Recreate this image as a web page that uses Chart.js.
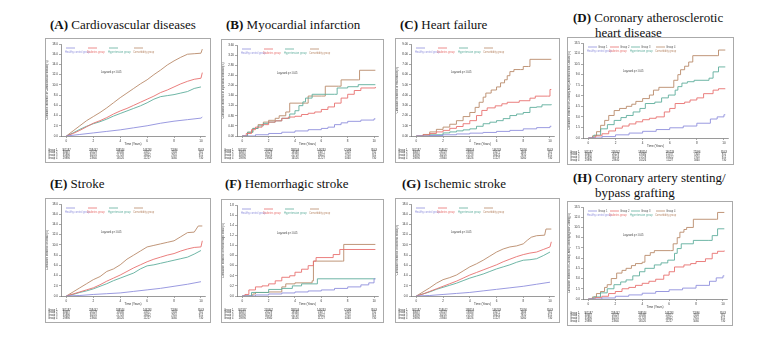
<!DOCTYPE html>
<html>
<head>
<meta charset="utf-8">
<script src="https://cdn.jsdelivr.net/npm/chart.js@4.4.1/dist/chart.umd.min.js"></script>
<style>
  body { margin: 0; width: 773px; height: 340px; background: #fff; position: relative; overflow: hidden; }
  .ttl { position: absolute; font-family: "Liberation Serif", "Times New Roman", serif; font-size: 13px; color: #111; white-space: nowrap; line-height: 15px; }
  .box { position: absolute; border: 1px solid #aaa; box-sizing: border-box; }
  .box canvas { display: block; }
</style>
</head>
<body>
<script>
// ---- shared axis values ----
const xTicks = [0, 2, 4, 6, 8, 10];
const groupNames = ["Group 1", "Group 2", "Group 3", "Group 4"];
const groupLabels = ["Healthy control group", "Diabetes group", "Hypertension group", "Comorbidity group"];
const groupColors = ["#8f8fdc", "#e8706f", "#5fae9c", "#b98a6a"];

// numbers at risk (same layout under every panel)
const riskG1 = ["301187", "258442", "188554", "146233", "72096", "8543"];
const riskG2 = ["30687", "26129", "19580", "15077", "7404", "911"];
const riskG3 = ["35896", "30216", "21728", "16622", "7910", "912"];
const riskG4 = ["29896", "23940", "16526", "11227", "5060", "730"];

// ---- (A) cardiovascular diseases ----
const cvdTicks = [0, 2, 4, 6, 8, 10, 12, 14, 16, 18];
const cvd1 = [[0,0],[1,0.3],[2,0.6],[3,0.9],[4,1.2],[5,1.6],[6,2.0],[7,2.5],[8,2.9],[9,3.2],[10,3.5],[10.1,3.7]];
const cvd2 = [[0,0],[0.5,0.5],[1,1.1],[1.5,1.8],[2,2.5],[2.5,3.0],[3,3.6],[3.5,4.3],[4,4.9],[4.5,5.4],[5,6.0],[5.5,6.6],[6,7.2],[6.5,7.8],[7,8.5],[7.5,9.0],[8,9.6],[8.5,10.2],[9,10.7],[9.5,11.1],[10,11.3],[10.1,12.4]];
const cvd3 = [[0,0],[0.5,0.6],[1,1.3],[1.5,1.9],[2,2.4],[2.5,2.8],[3,3.3],[3.5,3.9],[4,4.4],[4.5,4.9],[5,5.4],[5.5,5.9],[6,6.5],[6.5,7.2],[7,7.7],[7.5,7.9],[8,8.1],[8.5,8.4],[9,8.7],[9.5,9.3],[10,9.6]];
const cvd4 = [[0,0],[0.5,1.0],[1,2.0],[1.5,3.0],[2,3.8],[2.5,4.6],[3,5.5],[3.5,6.5],[4,7.5],[4.5,8.4],[5,9.3],[5.5,10.2],[6,11.0],[6.5,12.0],[7,12.9],[7.5,13.9],[8,14.7],[8.5,15.4],[9,16.0],[9.5,16.1],[10,16.2],[10.1,17.0]];

// ---- (B) myocardial infarction ----
const miTicks = [0, 0.4, 0.8, 1.2, 1.6, 2.0, 2.4, 2.8, 3.2, 3.6];
const mi1 = [[0,0],[1,0.05],[2,0.1],[3,0.15],[4,0.2],[5,0.25],[6,0.3],[6.5,0.35],[7,0.45],[7.5,0.52],[8,0.58],[9,0.63],[10,0.68],[10.1,0.68]];
const mi2 = [[0,0],[0.3,0.1],[0.7,0.25],[1,0.35],[1.5,0.45],[2,0.55],[2.5,0.6],[3,0.7],[3.5,0.75],[4,0.78],[4.5,0.85],[5,0.9],[5.5,0.95],[6,1.05],[6.5,1.15],[7,1.3],[7.5,1.5],[8,1.65],[8.5,1.8],[9,1.9],[10.1,1.94]];
const mi3 = [[0,0],[0.4,0.15],[0.8,0.3],[1.2,0.4],[1.6,0.5],[2,0.55],[2.5,0.6],[3,0.7],[3.6,0.87],[4,1.0],[4.3,1.2],[4.6,1.35],[4.8,1.5],[5.3,1.65],[7.0,1.65],[7.2,1.9],[8,1.95],[8.8,2.03],[10.1,2.03]];
const mi4 = [[0,0],[0.4,0.15],[0.8,0.3],[1.2,0.45],[1.6,0.55],[2,0.62],[2.5,0.7],[2.8,0.8],[3.3,0.95],[3.6,1.3],[4.8,1.3],[5.0,1.58],[6.0,1.58],[6.3,1.97],[7.3,1.97],[7.5,2.22],[8.8,2.22],[8.9,2.6],[10.1,2.6]];

// ---- (C) heart failure ----
const hfTicks = [0, 1, 2, 3, 4, 5, 6, 7, 8, 9];
const hf1 = [[0,0],[1,0.05],[2,0.12],[3,0.2],[4,0.28],[5,0.35],[6,0.45],[7,0.55],[8,0.7],[9,0.82],[10,0.95],[10.1,0.95]];
const hf2 = [[0,0],[0.5,0.1],[1,0.25],[1.5,0.4],[2,0.55],[2.5,0.75],[3,0.93],[3.5,1.2],[4,1.5],[4.5,2.0],[4.9,2.5],[5.3,2.75],[5.9,2.95],[6.4,3.15],[6.8,3.3],[7.7,3.45],[8.5,3.7],[8.9,3.9],[9.8,3.9],[10,4.55],[10.1,4.55]];
const hf3 = [[0,0],[1,0.12],[2,0.3],[2.5,0.4],[3,0.5],[3.5,0.6],[4,0.7],[4.5,0.95],[5,1.2],[5.5,1.35],[6,1.5],[6.5,1.7],[7,2.0],[7.5,2.15],[8,2.3],[8.5,2.8],[9,2.85],[9.4,3.05],[10.1,3.1]];
const hf4 = [[0,0],[0.5,0.15],[1,0.4],[1.5,0.65],[2,0.87],[2.5,1.15],[3,1.5],[3.5,1.9],[4,2.3],[4.4,2.8],[4.7,3.3],[5,3.8],[5.2,4.2],[5.6,4.5],[6,4.8],[6.3,5.2],[6.6,5.5],[6.8,5.9],[7.0,6.3],[7.3,6.5],[7.8,6.5],[8,6.8],[8.4,6.8],[8.5,7.5],[10.1,7.5]];

// ---- (D) coronary atherosclerotic heart disease ----
const cadTicks = [0, 1.5, 3.0, 4.5, 6.0, 7.5, 9.0, 10.5, 12.0, 13.5];
const cad1 = [[0,0],[1,0.2],[2,0.45],[3,0.7],[4,0.95],[5,1.2],[6,1.45],[7,1.7],[8,2.1],[9,2.7],[9.5,3.0],[10,3.3],[10.1,3.3]];
const cad2 = [[0,0],[0.5,0.3],[1,0.6],[1.5,1.0],[2,1.4],[2.5,1.7],[3,2.0],[3.5,2.3],[4,2.6],[4.5,2.8],[5,3.0],[5.6,3.7],[6,4.2],[6.4,4.9],[7.1,5.1],[7.5,5.4],[8,5.7],[8.5,6.3],[9.2,6.8],[9.6,7.0],[10.1,7.0]];
const cad3 = [[0,0],[0.4,0.4],[0.9,1.3],[1.4,1.9],[1.9,2.5],[2.4,2.9],[2.8,3.2],[3.3,3.7],[3.8,4.2],[4.2,4.9],[4.9,5.1],[5.4,5.7],[5.9,6.1],[6.4,6.8],[6.6,7.3],[6.9,7.8],[7.3,8.0],[7.8,8.2],[8.9,8.5],[9.2,9.4],[9.6,10.1],[10.1,10.1]];
const cad4 = [[0,0],[0.3,0.3],[0.6,0.9],[0.9,1.8],[1.2,2.5],[1.5,3.2],[1.9,3.9],[2.3,4.2],[2.8,4.5],[3.2,4.8],[3.5,5.2],[4,5.6],[4.5,6.1],[4.8,6.8],[5.2,7.2],[6.1,7.2],[6.3,8.2],[6.6,9.0],[6.8,9.7],[7.1,10.2],[7.4,10.8],[7.7,11.7],[9.5,11.7],[9.6,12.5],[10.1,12.5]];

// ---- (E) stroke ----
const strTicks = [0, 2, 4, 6, 8, 10, 12, 14, 16, 18];
const str1 = [[0,0],[1,0.1],[2,0.3],[3,0.45],[4,0.6],[5,0.9],[6,1.2],[7,1.5],[8,1.9],[9,2.3],[10,2.8]];
const str2 = [[0,0],[0.5,0.4],[1,0.8],[1.5,1.2],[2,1.6],[2.5,2.2],[3,2.9],[3.5,3.5],[4,4.1],[4.5,4.8],[5,5.5],[5.5,6.1],[6,6.7],[6.5,7.2],[7,7.6],[7.5,8.0],[8,8.3],[8.5,8.8],[9,9.2],[9.5,9.5],[10,9.6],[10.1,10.8]];
const str3 = [[0,0],[0.5,0.3],[1,0.7],[1.5,1.0],[2,1.4],[2.5,1.9],[3,2.4],[3.5,3.0],[4,3.5],[4.5,4.0],[5,4.5],[5.5,5.3],[6,5.9],[6.5,6.1],[7,6.4],[7.5,6.7],[8,7.0],[8.5,7.3],[9,7.6],[9.5,8.2],[10,8.9]];
const str4 = [[0,0],[0.5,0.8],[1,1.6],[1.5,2.4],[2,3.2],[2.5,3.8],[3,4.8],[3.5,5.3],[4,6.1],[4.5,7.2],[5,8.0],[5.5,8.8],[6,9.6],[6.5,9.9],[7,10.2],[7.5,10.5],[8,10.8],[8.5,11.6],[9,12.4],[9.5,12.5],[9.8,13.7],[10.1,13.7]];

// ---- (F) hemorrhagic stroke ----
const hemTicks = [0, 0.2, 0.4, 0.6, 0.8, 1.0, 1.2, 1.4, 1.6, 1.8];
const hem1 = [[0,0],[1,0.02],[2,0.04],[3,0.06],[4,0.08],[5,0.1],[6,0.12],[7,0.15],[8,0.18],[9,0.22],[9.6,0.26],[10,0.34],[10.1,0.34]];
const hem2 = [[0,0],[0.2,0.03],[0.5,0.12],[1,0.18],[1.5,0.2],[2,0.24],[2.5,0.3],[3,0.37],[3.6,0.4],[4,0.47],[4.5,0.53],[5,0.6],[5.4,0.69],[5.6,0.76],[6.9,0.82],[7.4,0.92],[10.1,0.92]];
const hem3 = [[0,0],[0.7,0.07],[2,0.13],[3,0.15],[3.8,0.2],[4.5,0.24],[5.7,0.34],[10.1,0.34]];
const hem4 = [[0,0],[0.8,0.04],[1,0.07],[2,0.08],[3,0.18],[3.3,0.24],[4,0.26],[5.3,0.3],[5.4,0.69],[7.6,0.69],[7.7,1.02],[10.1,1.02]];

// ---- (G) ischemic stroke ----
const ischTicks = [0, 2, 4, 6, 8, 10, 12, 14, 16, 18];
const isch1 = [[0,0],[1,0.1],[2,0.3],[3,0.5],[4,0.7],[5,1.0],[6,1.3],[7,1.6],[8,1.9],[9,2.3],[10,2.7]];
const isch2 = [[0,0],[0.5,0.4],[1,0.9],[1.5,1.4],[2,1.9],[2.5,2.4],[3,2.9],[3.5,3.5],[4,4.1],[4.5,4.6],[5,5.1],[5.5,5.6],[6,6.1],[6.5,6.7],[7,7.2],[7.5,7.7],[8,8.1],[8.5,8.4],[9,8.6],[9.5,9.1],[10,9.6],[10.1,10.6]];
const isch3 = [[0,0],[0.5,0.4],[1,0.8],[1.5,1.3],[2,1.7],[2.5,2.1],[3,2.5],[3.5,3.0],[4,3.5],[4.5,3.9],[5,4.3],[5.5,4.8],[6,5.3],[6.5,5.7],[7,6.1],[7.5,6.6],[8,7.0],[8.5,7.1],[9,7.3],[9.5,7.9],[10,8.6]];
const isch4 = [[0,0],[0.5,0.8],[1,1.6],[1.5,2.5],[2,3.2],[2.5,3.6],[3,4.1],[3.5,4.9],[4,5.7],[4.5,6.3],[5,7.0],[5.5,7.8],[6,8.6],[6.5,9.2],[7,9.6],[7.5,9.8],[8,10.2],[8.3,10.9],[8.6,11.5],[9,11.8],[9.6,11.9],[9.7,13.1],[10.1,13.1]];

// ---- (H) coronary artery stenting / bypass grafting ----
const cabgTicks = [0, 1.5, 3.0, 4.5, 6.0, 7.5, 9.0, 10.5, 12.0, 13.5];
const cabg1 = [[0,0],[1,0.15],[2,0.4],[3,0.6],[4,0.85],[5,1.1],[6,1.35],[7,1.6],[8,2.0],[9,2.6],[9.5,3.1],[10,3.4],[10.1,3.4]];
const cabg2 = [[0,0],[0.5,0.2],[1,0.4],[1.5,0.8],[2,1.1],[2.5,1.5],[3,1.7],[3.5,2.0],[4,2.3],[4.5,2.6],[5,2.9],[5.6,3.5],[6,4.0],[6.4,4.7],[7.1,5.0],[7.6,5.2],[8,5.5],[8.7,5.9],[9.2,6.7],[9.6,7.0],[10.1,7.1]];
const cabg3 = [[0,0],[0.4,0.3],[0.9,0.9],[1.4,1.5],[1.9,2.1],[2.4,2.5],[2.8,2.8],[3.3,3.4],[3.8,4.0],[4.2,4.5],[4.9,5.0],[5.4,5.3],[5.9,5.7],[6.4,6.7],[6.6,7.4],[6.9,8.1],[7.8,8.6],[8.9,8.6],[9.2,9.3],[9.6,10.3],[10.1,10.3]];
const cabg4 = [[0,0],[0.3,0.3],[0.6,0.8],[0.9,1.1],[1.2,1.7],[1.4,2.1],[1.7,3.0],[2.1,3.8],[2.5,4.2],[2.8,4.5],[3.2,4.9],[3.5,5.2],[4,5.4],[4.2,6.4],[4.6,6.8],[4.9,7.1],[6.1,7.1],[6.3,8.1],[6.6,9.0],[6.8,9.8],[7.1,10.2],[7.3,10.5],[7.8,11.7],[9.5,11.7],[9.6,12.7],[10.1,12.7]];

const small = '"Liberation Sans", Arial, sans-serif';

const panels = [
  { tag: "A", title: ["Cardiovascular diseases"], left: 45, top: 38, w: 166, h: 125, tx: 50, ty: 17,
    yTitle: "Cumulative incidence of Cardiovascular disease(%)", ticks: cvdTicks, dec: 1, series: [cvd1, cvd2, cvd3, cvd4], stepped: false },
  { tag: "B", title: ["Myocardial infarction"], left: 221, top: 39, w: 163, h: 124, tx: 226, ty: 17,
    yTitle: "Cumulative incidence of Myocardial infarction(%)", ticks: miTicks, dec: 2, series: [mi1, mi2, mi3, mi4], stepped: true },
  { tag: "C", title: ["Heart failure"], left: 395, top: 38, w: 165, h: 125, tx: 400, ty: 17,
    yTitle: "Cumulative incidence of Heart failure(%)", ticks: hfTicks, dec: 2, series: [hf1, hf2, hf3, hf4], stepped: true },
  { tag: "D", title: ["Coronary atherosclerotic", "heart disease"], left: 567, top: 37, w: 167, h: 128, tx: 573, ty: 10,
    yTitle: "Cumulative incidence of Coronary Artery Atherosclerotic Disease(%)", ticks: cadTicks, dec: 1, series: [cad1, cad2, cad3, cad4], stepped: true, groupText: true },
  { tag: "E", title: ["Stroke"], left: 45, top: 198, w: 166, h: 125, tx: 50, ty: 176,
    yTitle: "Cumulative incidence of Stroke(%)", ticks: strTicks, dec: 1, series: [str1, str2, str3, str4], stepped: false },
  { tag: "F", title: ["Hemorrhagic stroke"], left: 221, top: 199, w: 163, h: 124, tx: 225, ty: 176,
    yTitle: "Cumulative incidence of Hemorrhagic stroke(%)", ticks: hemTicks, dec: 1, series: [hem1, hem2, hem3, hem4], stepped: true },
  { tag: "G", title: ["Ischemic stroke"], left: 395, top: 198, w: 165, h: 125, tx: 402, ty: 176,
    yTitle: "Cumulative incidence of Ischemic stroke(%)", ticks: ischTicks, dec: 1, series: [isch1, isch2, isch3, isch4], stepped: false },
  { tag: "H", title: ["Coronary artery stenting/", "bypass grafting"], left: 567, top: 201, w: 166, h: 125, tx: 573, ty: 170,
    yTitle: "Cumulative incidence of Coronary Artery Stenting/Bypass Grafting(%)", ticks: cabgTicks, dec: 1, series: [cabg1, cabg2, cabg3, cabg4], stepped: true, groupText: true }
];

// legend rows, log-rank note and the at-risk table
const extras = {
  id: "extras",
  afterDraw(chart, args, o) {
    const { ctx, chartArea: a } = chart;
    const x = chart.scales.x;
    ctx.save();
    ctx.font = "2.6px " + small;
    ctx.textBaseline = "middle";
    const offs = [5, 27, 48, 73];
    offs.forEach((dx, i) => {
      const lx = a.left + dx;
      ctx.strokeStyle = groupColors[i];
      ctx.lineWidth = 0.8;
      ctx.beginPath();
      ctx.moveTo(lx, a.top + 4);
      ctx.lineTo(lx + 9, a.top + 4);
      ctx.stroke();
      if (o.groupText) {
        ctx.fillStyle = "#555";
        ctx.textAlign = "left";
        ctx.fillText(groupNames[i], lx + 10, a.top + 4);
      }
      ctx.fillStyle = groupColors[i];
      ctx.textAlign = "left";
      ctx.fillText(groupLabels[i], lx - 1, a.top + 8);
    });
    ctx.fillStyle = "#333";
    ctx.fillText("Log-rank p < 0.05", a.left + 40, a.top + 28);

    const rows = [riskG1, riskG2, riskG3, riskG4];
    rows.forEach((r, i) => {
      const y = a.bottom + 14 + i * 2.7;
      ctx.textAlign = "left";
      ctx.fillStyle = "#333";
      ctx.fillText(groupNames[i], 2, y);
      xTicks.forEach((t, j) => {
        ctx.textAlign = "center";
        ctx.fillText(r[j], x.getPixelForValue(t), y);
      });
    });
    ctx.restore();
  }
};

panels.forEach(p => {
  p.title.forEach((line, k) => {
    const d = document.createElement("div");
    d.className = "ttl";
    d.style.left = (k === 0 ? p.tx : p.tx + 22) + "px";
    d.style.top = (p.ty + k * 15) + "px";
    d.innerHTML = k === 0 ? "<b>(" + p.tag + ")</b> " + line : line;
    document.body.appendChild(d);
  });

  const box = document.createElement("div");
  box.className = "box";
  box.style.left = p.left + "px";
  box.style.top = p.top + "px";
  box.style.width = p.w + "px";
  box.style.height = p.h + "px";
  const cv = document.createElement("canvas");
  cv.width = p.w - 2;
  cv.height = p.h - 2;
  box.appendChild(cv);
  document.body.appendChild(box);

  const axisFont = { size: 3, family: small };
  new Chart(cv.getContext("2d"), {
    type: "line",
    data: {
      datasets: p.series.map((pts, i) => ({
        label: groupLabels[i],
        data: pts.map(([xv, yv]) => ({ x: xv, y: yv })),
        borderColor: groupColors[i],
        borderWidth: 0.9,
        pointRadius: 0,
        fill: false,
        stepped: p.stepped,
        tension: 0
      }))
    },
    options: {
      responsive: false,
      animation: false,
      devicePixelRatio: 1,
      layout: { padding: { left: 0, top: 5, right: 5, bottom: 16 } },
      plugins: {
        legend: { display: false },
        tooltip: { enabled: false },
        extras: { groupText: !!p.groupText }
      },
      scales: {
        x: {
          type: "linear", min: -0.4, max: 10.3,
          afterBuildTicks: s => { s.ticks = xTicks.map(v => ({ value: v })); },
          afterFit: s => { s.height = 10; },
          ticks: { font: axisFont, color: "#333", padding: 1, maxRotation: 0, autoSkip: false },
          grid: { drawOnChartArea: false, tickLength: 2, color: "#555", lineWidth: 0.5 },
          border: { color: "#555", width: 0.6 },
          title: { display: true, text: "Time (Years)", font: axisFont, color: "#333", padding: 0 }
        },
        y: {
          min: 0, max: p.ticks[p.ticks.length - 1],
          afterBuildTicks: s => { s.ticks = p.ticks.map(v => ({ value: v })); },
          afterFit: s => { s.width = 15; },
          ticks: { font: axisFont, color: "#333", padding: 1, callback: v => v.toFixed(p.dec) },
          grid: { drawOnChartArea: false, tickLength: 2, color: "#555", lineWidth: 0.5 },
          border: { color: "#555", width: 0.6 },
          title: { display: true, text: p.yTitle, font: { size: 2.6, family: small }, color: "#333", padding: 0 }
        }
      }
    },
    plugins: [extras]
  });
});
</script>
</body>
</html>
